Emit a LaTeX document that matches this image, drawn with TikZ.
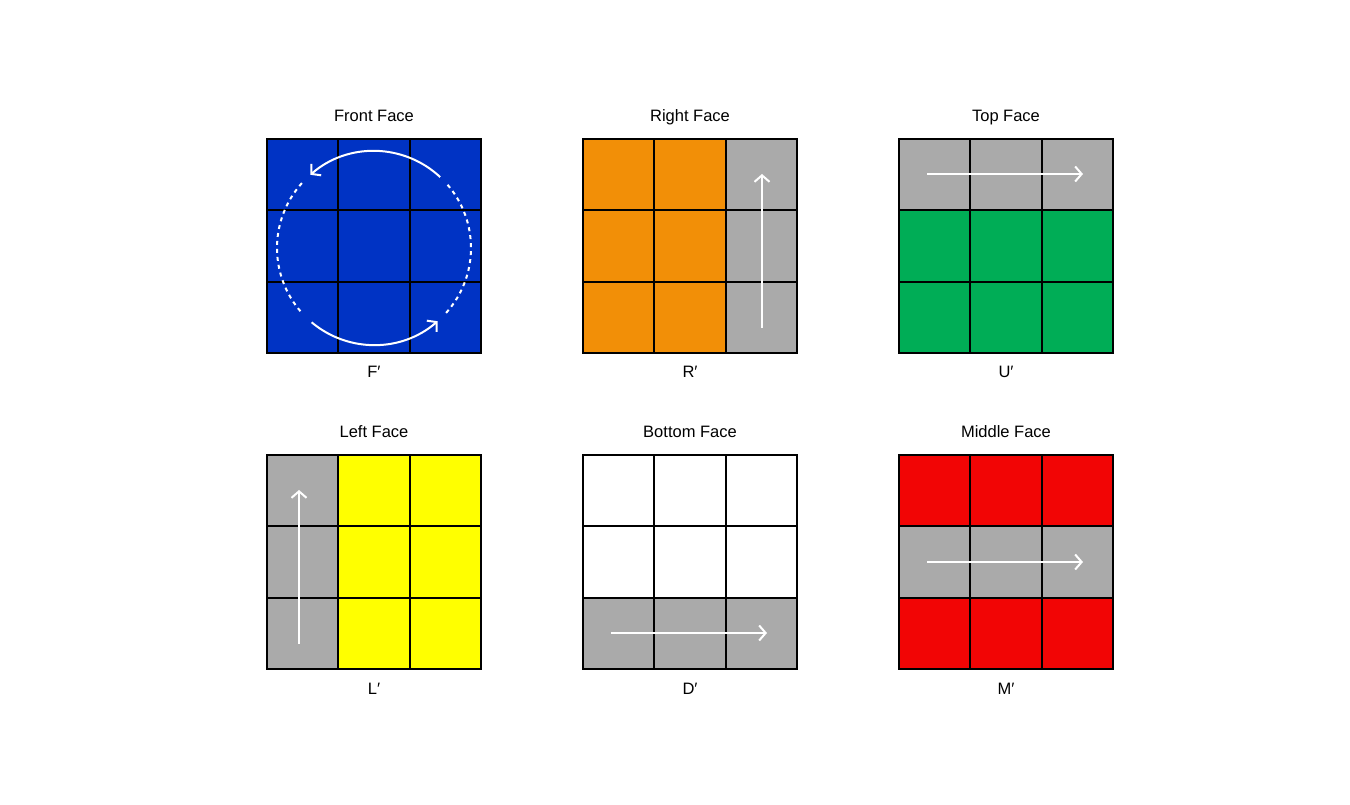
\documentclass[tikz,border=0pt]{standalone}
\usepackage{fontspec}
\setmainfont{Liberation Sans}
\usetikzlibrary{arrows.meta,calc}
\definecolor{cblue}{HTML}{0033C4}
\definecolor{corange}{HTML}{F28F07}
\definecolor{cgray}{HTML}{AAAAAA}
\definecolor{cgreen}{HTML}{00AD56}
\definecolor{cyellow}{HTML}{FFFF00}
\definecolor{cred}{HTML}{F20505}
\tikzset{
  cell/.style={draw=black, line width=1.8pt, minimum size=71.33pt, inner sep=0pt, outer sep=0pt, anchor=north west},
  title/.style={font=\fontsize{16.5}{19}\selectfont, inner sep=0pt, anchor=base},
  mv/.style={draw=white, line width=2pt, -{Straight Barb[length=6.5pt,width=15pt,line width=2pt]}},
  dsh/.style={draw=white, line width=2pt, dash pattern=on 4pt off 4pt},
}
\newcommand{\facegrid}[4]{%
  \foreach \c [count=\k from 0] in {#4} {
    \pgfmathtruncatemacro{\r}{int(\k/3)}
    \pgfmathtruncatemacro{\q}{mod(\k,3)}
    \node[cell, fill=\c] (#1-\r-\q) at ({#2+\q*71.33},{#3-\r*71.33}) {};
  }
}
\begin{document}
\begin{tikzpicture}[x=1pt,y=1pt]
\useasboundingbox (0,0) rectangle (1350,804);
\facegrid{F}{267}{665}{cblue,cblue,cblue,cblue,cblue,cblue,cblue,cblue,cblue}
\facegrid{R}{583}{665}{corange,corange,cgray,corange,corange,cgray,corange,corange,cgray}
\facegrid{U}{899}{665}{cgray,cgray,cgray,cgreen,cgreen,cgreen,cgreen,cgreen,cgreen}
\facegrid{L}{267}{349}{cgray,cyellow,cyellow,cgray,cyellow,cyellow,cgray,cyellow,cyellow}
\facegrid{D}{583}{349}{white,white,white,white,white,white,cgray,cgray,cgray}
\facegrid{M}{899}{349}{cred,cred,cred,cgray,cgray,cgray,cred,cred,cred}
% titles
\node[title] (tF) at (374,682) {Front Face};
\node[title] (tR) at (690,682) {Right Face};
\node[title] (tU) at (1006,682) {Top Face};
\node[title] (tL) at (374,366) {Left Face};
\node[title] (tD) at (690,366) {Bottom Face};
\node[title] (tM) at (1006,366) {Middle Face};
% labels
\node[title] (lF) at (374,426) {F′};
\node[title] (lR) at (690,426) {R′};
\node[title] (lU) at (1006,426) {U′};
\node[title] (lL) at (374,110) {L′};
\node[title] (lD) at (690,110) {D′};
\node[title] (lM) at (1006,110) {M′};
% rotation circle on front face
\coordinate (cF) at (374,556);
\draw[mv] ($(cF)+(47:97)$) arc[start angle=47, end angle=131, radius=97];
\draw[mv] ($(cF)+(230:97)$) arc[start angle=230, end angle=311, radius=97];
\draw[dsh] ($(cF)+(138:97)$) arc[start angle=138, end angle=222, radius=97];
\draw[dsh] ($(cF)+(-42:97)$) arc[start angle=-42, end angle=42, radius=97];
% straight moves
\coordinate (r1) at (762,476); \coordinate (r2) at (762,630);
\draw[mv] (r1) -- (r2);
\coordinate (u1) at (927,630); \coordinate (u2) at (1083,630);
\draw[mv] (u1) -- (u2);
\coordinate (l1) at (299,160); \coordinate (l2) at (299,314);
\draw[mv] (l1) -- (l2);
\coordinate (d1) at (611,171); \coordinate (d2) at (767,171);
\draw[mv] (d1) -- (d2);
\coordinate (m1) at (927,242); \coordinate (m2) at (1083,242);
\draw[mv] (m1) -- (m2);
\end{tikzpicture}
\end{document}
